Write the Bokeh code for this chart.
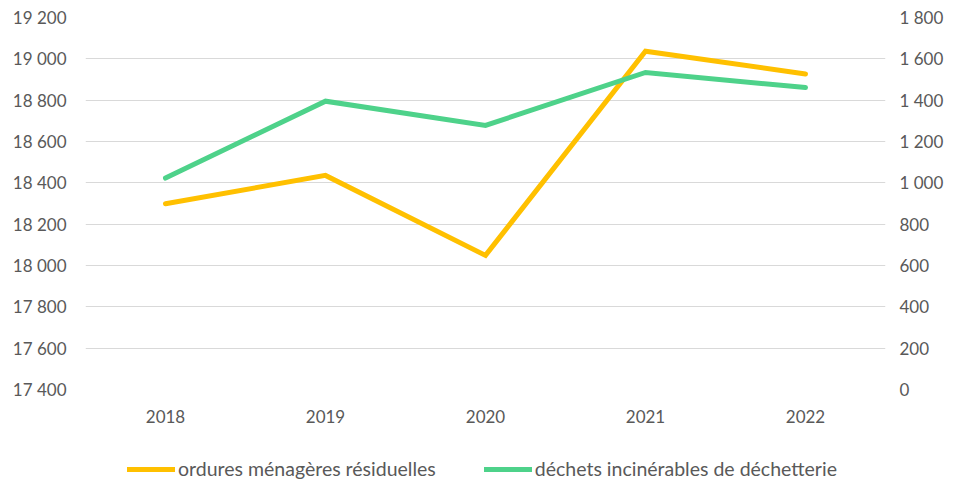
from bokeh.plotting import figure
from bokeh.layouts import column
from bokeh.models import Range1d, LinearAxis, FixedTicker, Legend, LegendItem, FactorRange
from bokeh.embed import file_html
from bokeh.resources import INLINE

years = ["2018", "2019", "2020", "2021", "2022"]
ordures = [18299, 18436, 18049, 19037, 18927]
dechets = [1023, 1395, 1278, 1534, 1461]

left_ticks = [17400, 17600, 17800, 18000, 18200, 18400, 18600, 18800, 19000, 19200]
left_labels = ["17 400", "17 600", "17 800", "18 000", "18 200", "18 400", "18 600", "18 800", "19 000", "19 200"]
right_ticks = [0, 200, 400, 600, 800, 1000, 1200, 1400, 1600, 1800]
right_labels = ["0", "200", "400", "600", "800", "1 000", "1 200", "1 400", "1 600", "1 800"]

series_names = ["ordures ménagères résiduelles", "déchets incinérables de déchetterie"]
colors = ["#FFC000", "#4ED28A"]

FONT = "Lato"
TXT = "#595959"

p = figure(width=946, height=440,
           x_range=FactorRange(*years, range_padding=0),
           y_range=Range1d(left_ticks[0], left_ticks[-1]),
           output_backend="svg", toolbar_location=None,
           min_border_left=85, min_border_right=56, min_border_top=17, min_border_bottom=51)
p.extra_y_ranges = {"right": Range1d(right_ticks[0], right_ticks[-1])}
p.outline_line_color = None
p.background_fill_color = "white"

p.xgrid.visible = False
p.ygrid.ticker = FixedTicker(ticks=left_ticks)
p.ygrid.grid_line_color = "#D9D9D9"
p.ygrid.grid_line_width = 1

p.line(years, ordures, line_color=colors[0], line_width=5, line_cap="round", line_join="miter")
p.line(years, dechets, line_color=colors[1], line_width=5, line_cap="round", line_join="miter",
       y_range_name="right")

yl = p.yaxis[0]
yl.ticker = FixedTicker(ticks=left_ticks)
yl.major_label_overrides = dict(zip(left_ticks, left_labels))

yr = LinearAxis(y_range_name="right", ticker=FixedTicker(ticks=right_ticks))
yr.major_label_overrides = dict(zip(right_ticks, right_labels))
p.add_layout(yr, "right")

for ax in [yl, yr, p.xaxis[0]]:
    ax.axis_line_color = None
    ax.major_tick_line_color = None
    ax.minor_tick_line_color = None
    ax.major_tick_out = 0
    ax.major_tick_in = 0
    ax.minor_tick_out = 0
    ax.major_label_text_font = FONT
    ax.major_label_text_font_size = "17px"
    ax.major_label_text_color = TXT
yl.major_label_standoff = 19
yr.major_label_standoff = 14
p.xaxis[0].major_label_standoff = 20

# legend strip below the chart
lg = figure(width=946, height=42, x_range=Range1d(0, 1), y_range=Range1d(0, 1),
            output_backend="svg", toolbar_location=None,
            min_border=0, min_border_left=0, min_border_right=0, min_border_top=0, min_border_bottom=0)
lg.axis.visible = False
lg.grid.visible = False
lg.outline_line_color = None
nan = float("nan")
d1 = lg.line([nan], [nan], line_color=colors[0], line_width=5, line_cap="round")
d2 = lg.line([nan], [nan], line_color=colors[1], line_width=5, line_cap="round")
legend = Legend(items=[LegendItem(label=series_names[0], renderers=[d1]),
                       LegendItem(label=series_names[1], renderers=[d2])],
                orientation="horizontal", location=(42, 2),
                glyph_width=48, glyph_height=20, label_height=20, label_standoff=3, spacing=48,
                padding=0, margin=0, border_line_color=None, background_fill_alpha=0,
                label_text_font=FONT, label_text_font_size="19.5px", label_text_color=TXT)
lg.add_layout(legend)

open("out.html", "w").write(file_html(column(p, lg, spacing=0), INLINE))
